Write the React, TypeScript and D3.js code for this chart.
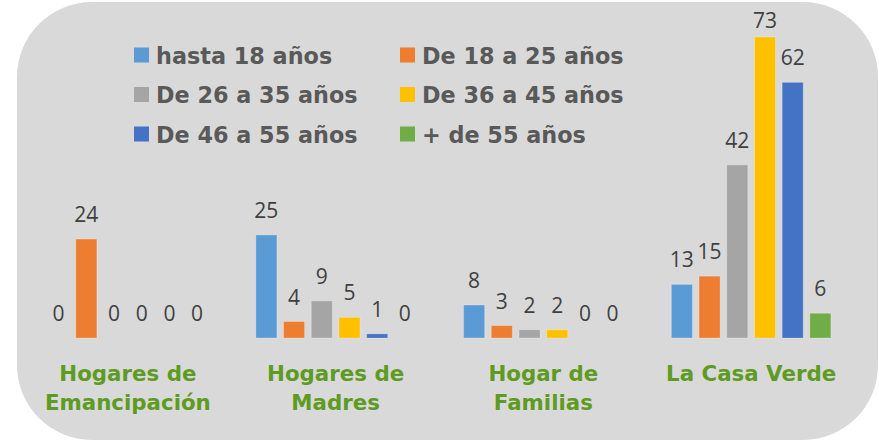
import React, { useEffect, useRef } from "react";
import * as d3 from "d3";

// Chart data
const categories = ["Hogares de Emancipación", "Hogares de Madres", "Hogar de Familias", "La Casa Verde"];
const categoryLines = [["Hogares de", "Emancipación"], ["Hogares de", "Madres"], ["Hogar de", "Familias"], ["La Casa Verde"]];
const seriesNames = ["hasta 18 años", "De 18 a 25 años", "De 26 a 35 años", "De 36 a 45 años", "De 46 a 55 años", "+ de 55 años"];
const seriesColors = ["#5b9bd5", "#ed7d31", "#a5a5a5", "#ffc000", "#4472c4", "#70ad47"];

const hasta18 = [0, 25, 8, 13];
const de18a25 = [24, 4, 3, 15];
const de26a35 = [0, 9, 2, 42];
const de36a45 = [0, 5, 2, 73];
const de46a55 = [0, 1, 0, 62];
const mas55 = [0, 0, 0, 6];

const seriesValues = [hasta18, de18a25, de26a35, de36a45, de46a55, mas55];

const W = 879;
const H = 442;

// squeeze a bold text a little horizontally, like the narrow Gothic face of the original
const squeeze = (sel: any, k: number) => {
  sel.each(function (this: SVGTextContentElement) {
    const len = this.getComputedTextLength();
    d3.select(this).attr("textLength", len * k).attr("lengthAdjust", "spacingAndGlyphs");
  });
};

const App = () => {
  const ref = useRef<SVGSVGElement>(null);

  useEffect(() => {
    document.body.style.margin = "0";
    const svg = d3.select(ref.current);
    svg.selectAll("*").remove();

    // rounded gray background
    svg
      .append("rect")
      .attr("x", 17)
      .attr("y", 2)
      .attr("width", 861)
      .attr("height", 438)
      .attr("rx", 75)
      .attr("ry", 75)
      .attr("fill", "#d9d9d9");

    const x0 = d3.scaleBand().domain(categories).range([24, 855]).paddingInner(0.2).paddingOuter(0.1);
    const x1 = d3
      .scaleBand()
      .domain(seriesNames)
      .range([0, x0.bandwidth()])
      .paddingInner(0.24)
      .paddingOuter(0.12);
    const maxVal = d3.max(seriesValues.flat()) as number;
    const y = d3.scaleLinear().domain([0, maxVal]).range([338, 37]);

    // bars and value labels
    categories.forEach((cat, ci) => {
      const g = svg.append("g").attr("transform", `translate(${x0(cat)},0)`);
      seriesNames.forEach((s, si) => {
        const v = seriesValues[si][ci];
        const bx = x1(s) as number;
        if (v > 0) {
          g.append("rect")
            .attr("x", bx)
            .attr("y", y(v))
            .attr("width", x1.bandwidth())
            .attr("height", y(0) - y(v))
            .attr("fill", seriesColors[si])
            .attr("stroke", "#ffffff")
            .attr("stroke-opacity", 0.25)
            .attr("stroke-width", 1);
        }
        g.append("text")
          .attr("x", bx + x1.bandwidth() / 2)
          .attr("y", Math.max(y(v) - 17, 28))
          .attr("text-anchor", "middle")
          .attr("font-family", "'Open Sans', sans-serif")
          .attr("font-size", 21)
          .attr("fill", "#404040")
          .text(v);
      });

      // category label
      const lab = svg
        .append("text")
        .attr("text-anchor", "middle")
        .attr("font-family", "'DejaVu Sans', sans-serif")
        .attr("font-weight", "bold")
        .attr("font-size", 22)
        .attr("fill", "#5e9b22");
      categoryLines[ci].forEach((line, li) => {
        lab
          .append("tspan")
          .attr("x", (x0(cat) as number) + x0.bandwidth() / 2)
          .attr("y", 381 + li * 29)
          .text(line);
      });
      squeeze(lab.selectAll("tspan"), 0.97);
    });

    // legend
    const legend = svg.append("g");
    seriesNames.forEach((s, i) => {
      const col = i % 2;
      const row = Math.floor(i / 2);
      const lx = 134 + col * 266;
      const ly = 55 + row * 39.5;
      legend
        .append("rect")
        .attr("x", lx)
        .attr("y", ly - 7.5)
        .attr("width", 15)
        .attr("height", 15)
        .attr("fill", seriesColors[i]);
      const t = legend
        .append("text")
        .attr("x", lx + 22)
        .attr("y", ly + 8.5)
        .attr("font-family", "'DejaVu Sans', sans-serif")
        .attr("font-weight", "bold")
        .attr("font-size", 23.5)
        .attr("fill", "#595959")
        .text(s);
      squeeze(t, 0.95);
    });
  }, []);

  return <svg ref={ref} width={W} height={H} style={{ display: "block" }} />;
};

export default App;
